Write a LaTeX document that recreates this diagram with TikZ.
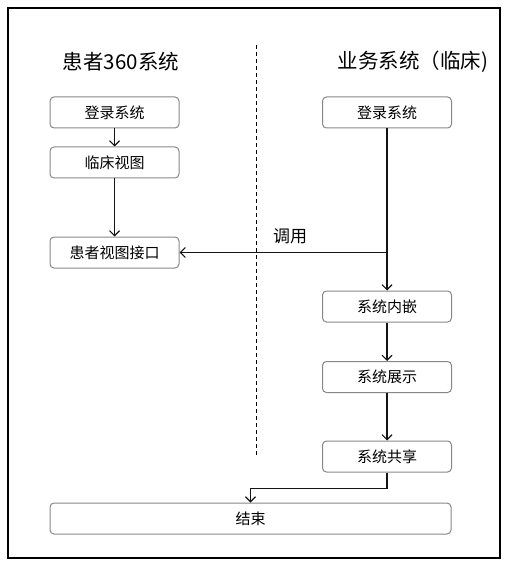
\documentclass[tikz,border=0pt]{standalone}
\usepackage{fontspec}
\setmainfont{Noto Sans CJK SC}
\usepackage{xcolor}
\usetikzlibrary{arrows.meta, positioning}
\definecolor{boxGray}{RGB}{135,135,135}
\definecolor{lineDark}{RGB}{20,20,20}

\begin{document}
\begin{tikzpicture}[x=1pt, y=-1pt,
    stepbox/.style={draw=boxGray, line width=1pt, rounded corners=4pt, minimum width=129pt, minimum height=31pt, inner sep=0pt, font=\fontsize{15}{17}\selectfont},
    flow/.style={draw=lineDark, line width=1.1pt, -{Straight Barb[length=5pt, width=10pt]}},
    title/.style={font=\fontsize{20.5}{24}\selectfont}]
        \useasboundingbox (0,0) rectangle (510,569);
        \draw[line width=1.4pt] (8,8) rectangle (500,558);
        % lanes
        \node[title] (lTitle) at (121,62) {患者360系统};
        \node[title] (rTitle) at (413,62) {业务系统（临床)};
        \coordinate (divTop) at (256,45);
        \coordinate (divBot) at (256,455);
        \draw[dashed, line width=1pt, dash pattern=on 4pt off 3pt] (divTop) -- (divBot);
        % left side
        \node[stepbox] (login1) at (114.5,112.5) {登录系统};
        \node[stepbox] (clinView) at (114.5,162.5) {临床视图};
        \node[stepbox] (viewApi) at (114.5,252.5) {患者视图接口};
        % right side
        \node[stepbox] (login2) at (387,112.5) {登录系统};
        \node[stepbox] (embed) at (387,306.5) {系统内嵌};
        \node[stepbox] (show) at (387,377) {系统展示};
        \node[stepbox] (share) at (387,456.5) {系统共享};
        \node[stepbox, minimum width=401pt] (finish) at (250.5,518.5) {结束};
        % connectors
        \draw[flow] (login1) -- (clinView);
        \draw[flow] (clinView) -- (viewApi);
        \draw[flow] (login2) -- (embed);
        \coordinate (callPt) at (login2.south |- viewApi.east);
        \draw[flow] (callPt) -- (viewApi.east);
        \node[font=\fontsize{17}{19}\selectfont] (callLbl) at (290,236) {调用};
        \draw[flow] (embed) -- (show);
        \draw[flow] (show) -- (share);
        \draw[flow] (share.south) -- ++(0,16) -| (finish.north);
      \end{tikzpicture}
\end{document}
